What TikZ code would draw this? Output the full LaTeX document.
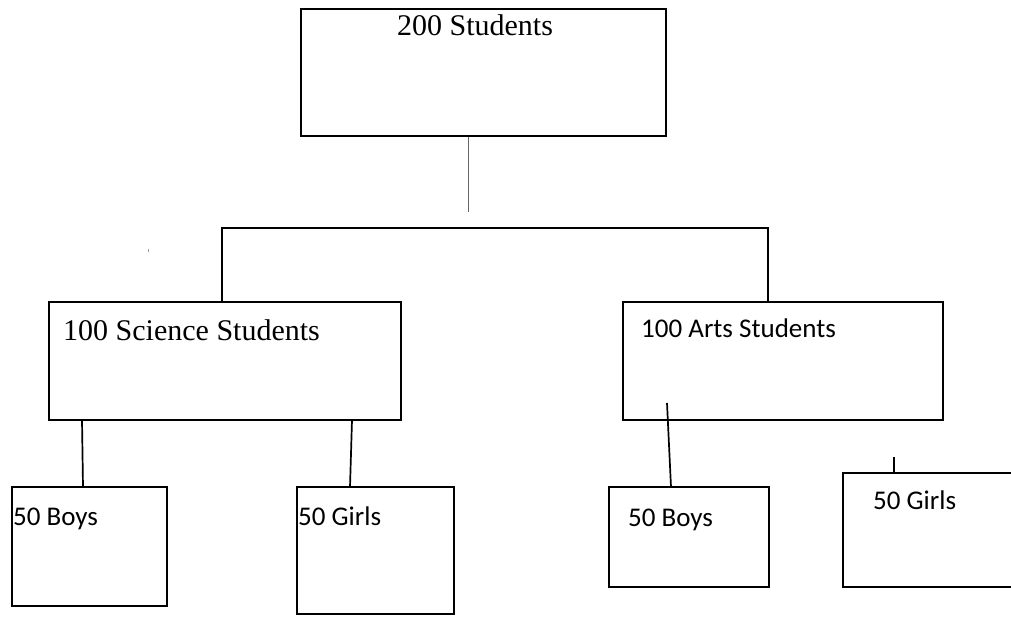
\documentclass[tikz,border=0pt]{standalone}
\usepackage{fontspec}
\setmainfont{Liberation Serif}
\newfontfamily\calibri{Carlito}
\begin{document}
\begin{tikzpicture}[x=1pt,y=-1pt,
  box/.style={draw=black,line width=1.9pt,fill=none,rectangle,inner sep=0pt},
  link/.style={draw=black,line width=1.7pt},
  serifl/.style={inner sep=0pt,font=\fontsize{30}{35}\selectfont},
  sansl/.style={inner sep=0pt,font=\calibri\fontsize{27}{32}\selectfont}]
\clip (0,0) rectangle (1011,620);
\fill[white] (0,0) rectangle (1011,620);
% boxes
\node[box,minimum width=365pt,minimum height=127pt] (top) at (483.5,72.5) {};
\node[box,minimum width=352pt,minimum height=118pt] (sci) at (225,361) {};
\node[box,minimum width=320pt,minimum height=118pt] (art) at (783,361) {};
\node[box,minimum width=155pt,minimum height=119pt] (sb) at (89.5,546.5) {};
\node[box,minimum width=157pt,minimum height=127pt] (sg) at (375.5,550.5) {};
\node[box,minimum width=160pt,minimum height=100pt] (ab) at (689,537) {};
\node[box,minimum width=190pt,minimum height=114pt] (ag) at (938,530) {};
% texts
\node[serifl,anchor=base] (ttop) at (475,36) {200 Students};
\node[serifl,anchor=base west] (tsci) at (63,340) {100 Science Students};
\node[sansl,anchor=base west] (tart) at (641,337) {100 Arts Students};
\node[sansl,anchor=base west] (tsb) at (13,525) {50 Boys};
\node[sansl,anchor=base west] (tsg) at (298,525) {50 Girls};
\node[sansl,anchor=base west] (tab) at (628,526) {50 Boys};
\node[sansl,anchor=base west] (tag) at (873,509) {50 Girls};
% connector coordinates
\coordinate (topdrop) at (468,212);
\coordinate (busL) at (222,228);
\coordinate (busR) at (768,228);
\coordinate (abtop) at (667,403);
\coordinate (agtop) at (894,457);
% connectors
\draw[draw=black!60,line width=1pt] (top.south -| topdrop) -- (topdrop);
\draw[link] (sci.north -| busL) -- (busL) -- (busR) -- (art.north -| busR);
\draw[link] (82,420) -- (83,487);
\draw[link] (352,420) -- (350,487);
\draw[link] (abtop) -- (671,487);
\draw[link] (agtop) -- (ag.north -| agtop);
% stray mark
\fill[black!40] (147.6,249.5) rectangle (148.4,252);
\end{tikzpicture}
\end{document}
